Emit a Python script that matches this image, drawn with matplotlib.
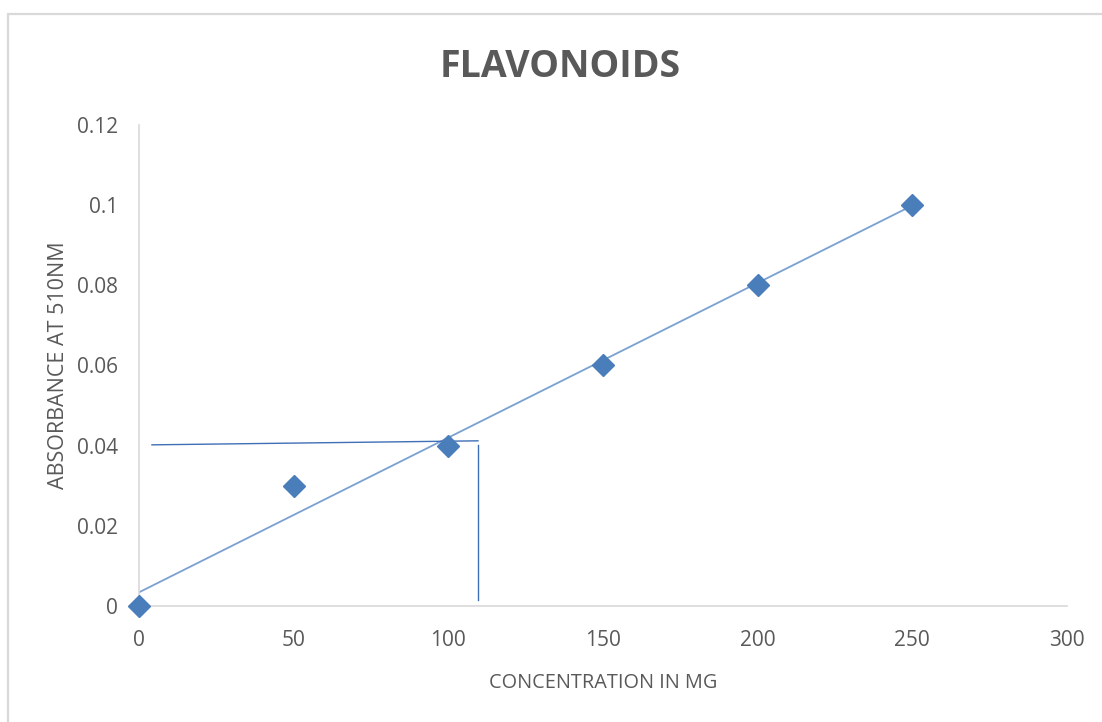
import numpy as np
import matplotlib
matplotlib.use("Agg")
import matplotlib.pyplot as plt
from matplotlib.patches import Rectangle

# data
conc = [0, 50, 100, 150, 200, 250]
absorb = [0.0, 0.03, 0.04, 0.06, 0.08, 0.10]
# linear trendline as drawn
trend_x = [0, 250]
trend_intercept = 0.0034
trend_slope = 0.000386
# hand drawn guide lines (read-off of unknown at ~0.04)
guide_h_x = [4.2, 109.6]
guide_h_y = [0.0402, 0.0412]
guide_v_x = [109.6, 109.6]
guide_v_y = [0.0402, 0.0016]

xticks = [0, 50, 100, 150, 200, 250, 300]
yticks = [0, 0.02, 0.04, 0.06, 0.08, 0.1, 0.12]
yticklabels = ["0", "0.02", "0.04", "0.06", "0.08", "0.1", "0.12"]

plt.rcParams['font.family'] = ['Open Sans', 'DejaVu Sans']
grey = "#595959"
blue = "#4A7EBB"

fig = plt.figure(figsize=(11.02, 7.22), dpi=100)
ax = fig.add_axes([0.1261, 0.1607, 0.8421, 0.6662])

# chart frame
fig.patches.append(Rectangle((0.0073, -0.1), 1.2, 1.0806, transform=fig.transFigure,
                             fill=False, ec="#D9D9D9", lw=1.6))

tx = np.array(trend_x, dtype=float)
ax.plot(tx, trend_intercept + trend_slope * tx, color="#7BA0D4", lw=1.3, zorder=2)
ax.plot(guide_h_x, guide_h_y, color="#3F6FB6", lw=1.0, zorder=2)
ax.plot(guide_v_x, guide_v_y, color="#3F6FB6", lw=1.0, zorder=2)
ax.plot(conc, absorb, linestyle="none", marker="D", ms=11, color=blue, zorder=3,
        clip_on=False)

ax.set_xlim(0, 300)
ax.set_ylim(0, 0.12)
ax.set_xticks(xticks)
ax.set_yticks(yticks)
ax.set_yticklabels(yticklabels)
ax.tick_params(length=0, labelsize=15, labelcolor=grey)
ax.tick_params(axis="y", pad=15)
ax.tick_params(axis="x", pad=17)
for s in ["top", "right"]:
    ax.spines[s].set_visible(False)
for s in ["left", "bottom"]:
    ax.spines[s].set_color("#D9D9D9")
    ax.spines[s].set_linewidth(1.2)

ax.set_xlabel("CONCENTRATION IN MG", fontsize=14.3, color=grey, labelpad=16)
ax.set_ylabel("ABSORBANCE AT 510NM", fontsize=15.5, color=grey, labelpad=6)
fig.text(0.508, 0.907, "FLAVONOIDS", fontsize=27, fontweight="bold", color=grey,
         ha="center", va="center")

fig.savefig("out.png", dpi=100)
